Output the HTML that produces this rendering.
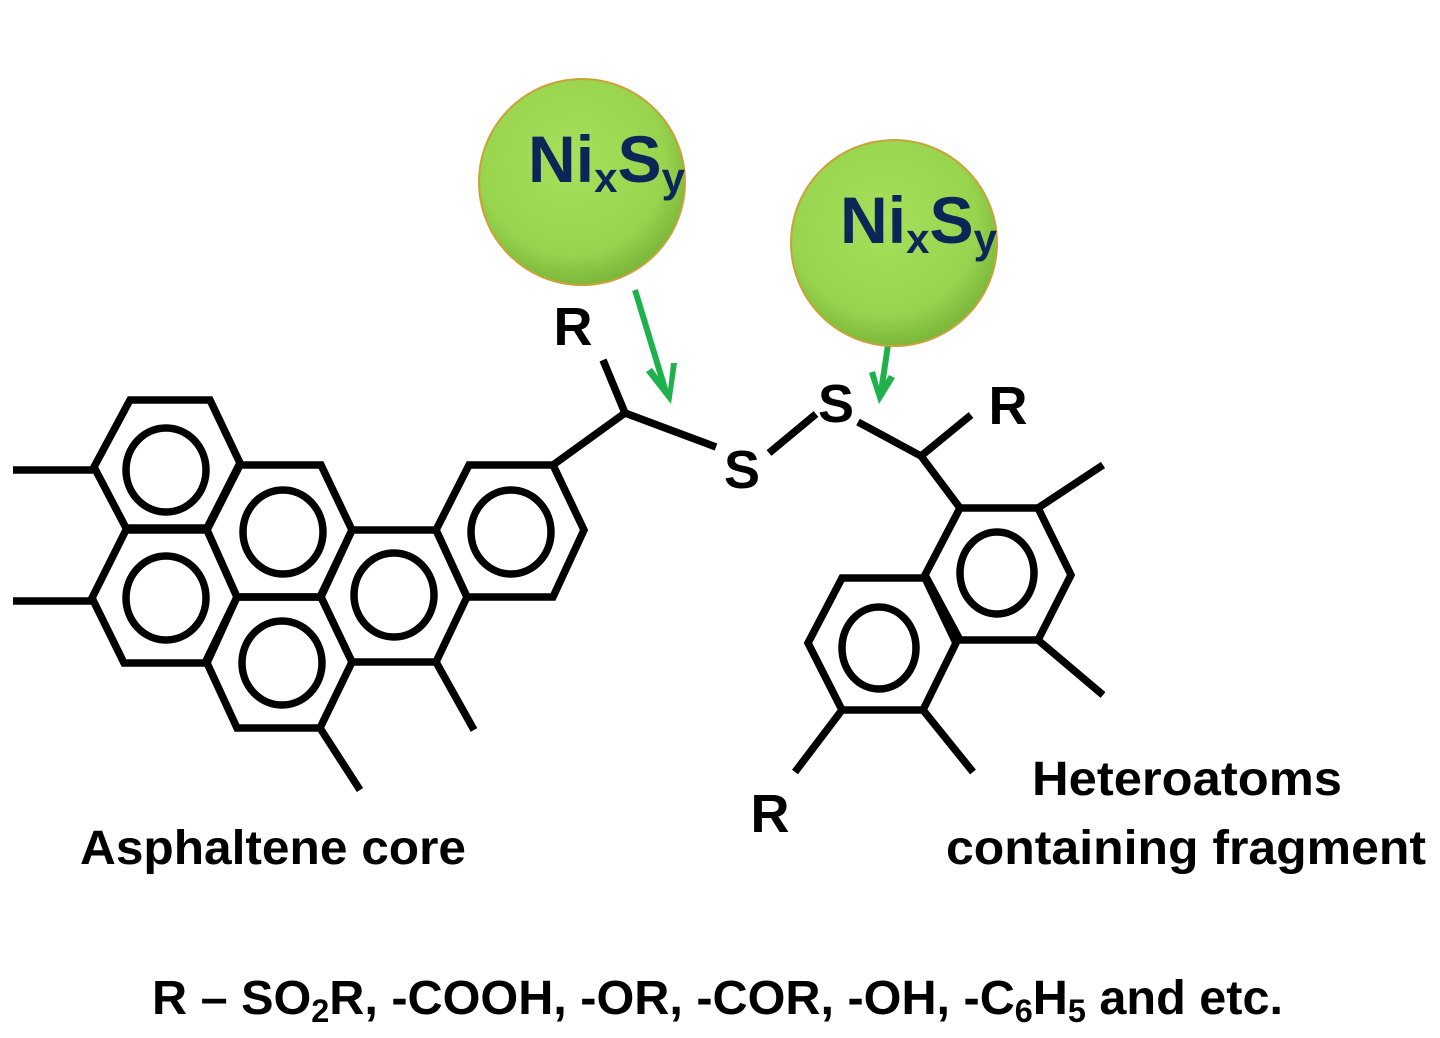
<!DOCTYPE html>
<html><head><meta charset="utf-8"><style>
html,body{margin:0;padding:0;background:#fff;}
svg{display:block;}
text{font-family:"Liberation Sans",sans-serif;font-weight:bold;}
</style></head><body>
<svg width="1440" height="1038" viewBox="0 0 1440 1038" xmlns="http://www.w3.org/2000/svg">
<defs>
<radialGradient id="g" cx="0.45" cy="0.4" r="0.6">
<stop offset="0" stop-color="#a6e05c"/><stop offset="0.75" stop-color="#98d44e"/><stop offset="1" stop-color="#7cb83a"/>
</radialGradient>
</defs>
<g fill="none" stroke="#000" stroke-width="7.5" stroke-linejoin="miter">
<polygon points="130,400 210,400 240,463 207,528 126,528 94,467"/>
<polygon points="240,465 321,465 352,530 320,597 237,597 207,530"/>
<polygon points="126,530 207,530 237,597 205,663 124,663 92,598"/>
<polygon points="237,597 321,597 352,662 320,728 237,728 207,663"/>
<polygon points="352,530 436,530 467,597 436,662 352,662 321,597"/>
<polygon points="469,465 553,465 584,530 553,597 467,597 436,530"/>
<ellipse cx="166" cy="470" rx="40" ry="42"/>
<ellipse cx="283" cy="532" rx="40" ry="42"/>
<ellipse cx="166" cy="598" rx="40" ry="42"/>
<ellipse cx="282" cy="663" rx="40" ry="42"/>
<ellipse cx="394" cy="595" rx="40" ry="42"/>
<ellipse cx="511" cy="532" rx="40" ry="42"/>
<line x1="13" y1="470" x2="94" y2="470"/>
<line x1="13" y1="601" x2="92" y2="601"/>
<line x1="320" y1="728" x2="360" y2="790"/>
<line x1="436" y1="662" x2="474" y2="730"/>
<polyline points="553,465 625,413 716,447"/>
<line x1="625" y1="413" x2="603" y2="360"/>
<line x1="769" y1="453" x2="816" y2="414"/>
<polyline points="858,422 921,456 971,415"/>
<line x1="921" y1="456" x2="960" y2="508"/>
<polygon points="960,508 1038,508 1071,575 1038,640 960,640 925,575"/>
<polygon points="842,578 925,578 956,643 923,710 842,710 808,643"/>
<ellipse cx="997" cy="573" rx="37" ry="41"/>
<ellipse cx="879" cy="648" rx="37" ry="41"/>
<line x1="1038" y1="508" x2="1103" y2="465"/>
<line x1="1038" y1="640" x2="1103" y2="695"/>
<line x1="923" y1="710" x2="973" y2="772"/>
<line x1="842" y1="710" x2="795" y2="772"/>
</g>
<g stroke="#1fb14c" stroke-width="6" fill="none" stroke-linecap="butt">
<line x1="635" y1="290" x2="666" y2="392"/>
<line x1="888" y1="345" x2="881" y2="392"/>
</g>
<g fill="#1fb14c">
<polygon points="646,372 652,368 668,390 671,363 677,363 671,404"/>
<polygon points="869,373 875,371 880,390 889,375 895,378 879,404"/>
</g>
<circle cx="582" cy="182" r="103" fill="url(#g)" stroke="#c9a33a" stroke-width="2"/>
<circle cx="894" cy="243" r="103" fill="url(#g)" stroke="#c9a33a" stroke-width="2"/>
<text x="528" y="182" font-size="66" fill="#0d2658" textLength="157" lengthAdjust="spacingAndGlyphs">Ni<tspan font-size="42" dy="10">x</tspan><tspan font-size="66" dy="-10">S</tspan><tspan font-size="42" dy="10">y</tspan></text>
<text x="840" y="243" font-size="66" fill="#0d2658" textLength="157" lengthAdjust="spacingAndGlyphs">Ni<tspan font-size="42" dy="10">x</tspan><tspan font-size="42" dy="0"></tspan><tspan font-size="66" dy="-10">S</tspan><tspan font-size="42" dy="10">y</tspan></text>
<g font-size="54" fill="#000" text-anchor="middle">
<text x="573" y="345">R</text>
<text x="742" y="488">S</text>
<text x="836" y="422">S</text>
<text x="1008" y="424">R</text>
<text x="770" y="832">R</text>
</g>
<g font-size="48" fill="#000">
<text x="80" y="864" textLength="386" lengthAdjust="spacingAndGlyphs">Asphaltene core</text>
<text x="1032" y="795" textLength="310" lengthAdjust="spacingAndGlyphs">Heteroatoms</text>
<text x="946" y="864" textLength="480" lengthAdjust="spacingAndGlyphs">containing fragment</text>
<text x="152" y="1014" textLength="1131" lengthAdjust="spacingAndGlyphs">R – SO<tspan font-size="32" dy="8">2</tspan><tspan dy="-8">R, -COOH, -OR, -COR, -OH, -C</tspan><tspan font-size="32" dy="8">6</tspan><tspan dy="-8">H</tspan><tspan font-size="32" dy="8">5</tspan><tspan dy="-8"> and etc.</tspan></text>
</g>
</svg>
</body></html>
